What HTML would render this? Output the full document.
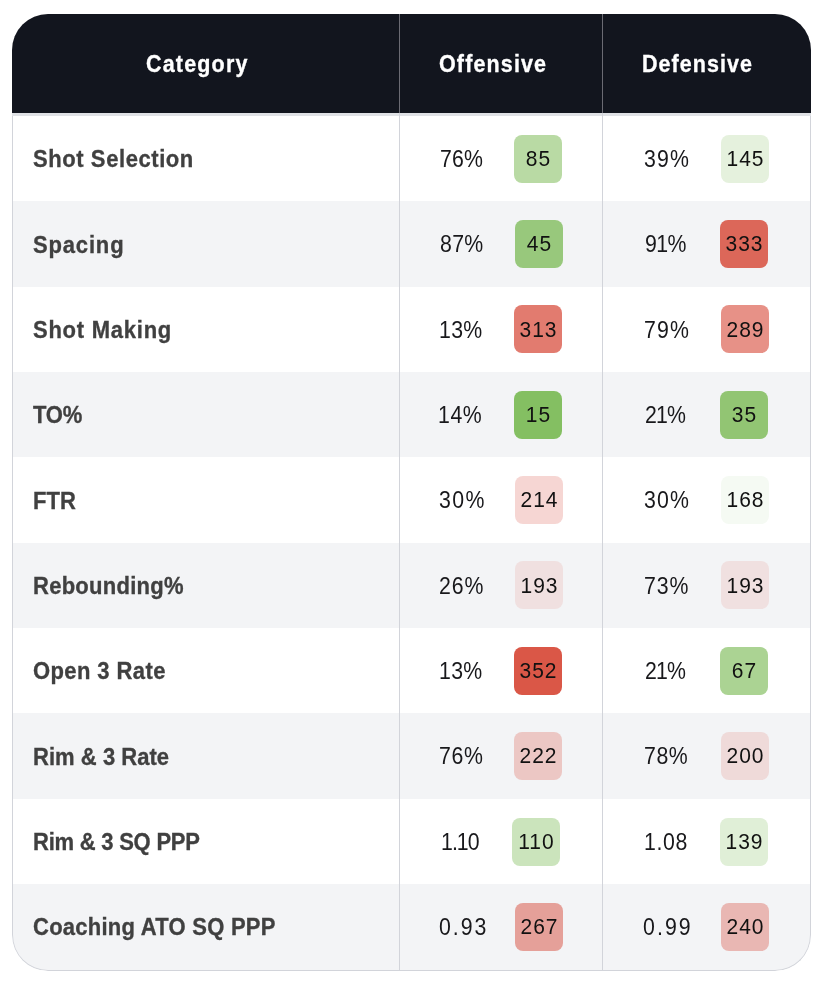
<!DOCTYPE html>
<html><head><meta charset="utf-8"><style>
*{box-sizing:border-box;margin:0;padding:0}
html,body{width:824px;height:984px;background:#fff;overflow:hidden}
body{font-family:"Liberation Sans",sans-serif;position:relative}
.t{position:absolute;left:12px;top:14px;width:799px;height:957px;border-radius:36px;overflow:hidden;background:#fff}
.hd{position:absolute;left:0;top:0;width:799px;height:99px;background:#12151e}
.hb{position:absolute;left:0;top:99px;width:799px;height:3px;background:#dfe1e5}
.hs{position:absolute;top:0;width:1px;height:99px;background:#6b6b73}
.bs{position:absolute;top:99px;width:1px;height:858px;background:#d2d4da}
.r{position:absolute;left:0;width:799px}
.g{background:#f3f4f6}
.ob{position:absolute;left:0;top:102px;width:799px;height:855px;border:1px solid #d2d4da;border-top:none;border-radius:0 0 36px 36px}
.x{position:absolute;white-space:nowrap;line-height:30px;height:30px;will-change:transform}
.th{color:#fff;font-weight:bold;font-size:21.5px;transform:scaleY(1.08);-webkit-text-stroke:0.3px #fff}
.c{font-weight:bold;font-size:22px;color:#404040;transform:scaleY(1.05);-webkit-text-stroke:0.3px #404040}
.v{font-size:21.3px;color:#18181b;transform:scaleY(1.12)}
.b{position:absolute;width:48px;height:48px;border-radius:8px}
.bt{font-size:21px;letter-spacing:1px;color:#111;width:60px;text-align:center;text-indent:1px;transform:scaleY(1.08)}
</style></head><body>
<div class="t">

<div class="r" style="top:102px;height:85px"></div>
<div class="r g" style="top:187px;height:86px"></div>
<div class="r" style="top:273px;height:85px"></div>
<div class="r g" style="top:358px;height:85px"></div>
<div class="r" style="top:443px;height:86px"></div>
<div class="r g" style="top:529px;height:85px"></div>
<div class="r" style="top:614px;height:85px"></div>
<div class="r g" style="top:699px;height:86px"></div>
<div class="r" style="top:785px;height:85px"></div>
<div class="r g" style="top:870px;height:86px"></div>
<div class="hd"></div><div class="hb"></div>
<div class="hs" style="left:387px"></div><div class="hs" style="left:590px"></div>
<div class="bs" style="left:387px"></div><div class="bs" style="left:590px"></div>
<div class="ob"></div>
<div class="b" style="left:502.1px;top:120.7px;background:#b9daa4"></div>
<div class="b" style="left:709.0px;top:120.7px;background:#e5f1dd"></div>
<div class="b" style="left:502.9px;top:206.0px;background:#98c87c"></div>
<div class="b" style="left:707.9px;top:206.0px;background:#dc6759"></div>
<div class="b" style="left:502.1px;top:291.4px;background:#e27b6f"></div>
<div class="b" style="left:708.6px;top:291.4px;background:#e79187"></div>
<div class="b" style="left:502.3px;top:376.7px;background:#84bf62"></div>
<div class="b" style="left:708.0px;top:376.7px;background:#92c573"></div>
<div class="b" style="left:502.5px;top:462.1px;background:#f6d6d3"></div>
<div class="b" style="left:708.8px;top:462.1px;background:#f5faf3"></div>
<div class="b" style="left:502.5px;top:547.4px;background:#f0e0e0"></div>
<div class="b" style="left:708.5px;top:547.4px;background:#f0e0e0"></div>
<div class="b" style="left:501.8px;top:632.8px;background:#da5747"></div>
<div class="b" style="left:708.0px;top:632.8px;background:#abd393"></div>
<div class="b" style="left:502.3px;top:718.1px;background:#ecc7c4"></div>
<div class="b" style="left:708.5px;top:718.1px;background:#efdad9"></div>
<div class="b" style="left:499.8px;top:803.5px;background:#cbe4bc"></div>
<div class="b" style="left:707.6px;top:803.5px;background:#e0efd7"></div>
<div class="b" style="left:503.1px;top:888.8px;background:#e5a099"></div>
<div class="b" style="left:709.0px;top:888.8px;background:#e9b7b3"></div>
</div>
<div class="x th" style="left:145.6px;top:49.3px;letter-spacing:1.171px">Category</div>
<div class="x th" style="left:438.8px;top:49.3px;letter-spacing:1.137px">Offensive</div>
<div class="x th" style="left:642.4px;top:49.3px;letter-spacing:1.062px">Defensive</div>
<div class="x c" style="left:32.5px;top:145.2px;letter-spacing:0.577px">Shot Selection</div>
<div class="x v" style="left:439.9px;top:143.9px;letter-spacing:0.15px">76%</div>
<div class="x v" style="left:643.9px;top:143.9px;letter-spacing:1.2px">39%</div>
<div class="x bt" style="left:508.1px;top:142.9px">85</div>
<div class="x bt" style="left:715.0px;top:142.9px">145</div>
<div class="x c" style="left:32.5px;top:230.5px;letter-spacing:0.833px">Spacing</div>
<div class="x v" style="left:440.1px;top:229.2px;letter-spacing:0.3px">87%</div>
<div class="x v" style="left:644.9px;top:229.2px;letter-spacing:-0.6px">91%</div>
<div class="x bt" style="left:508.9px;top:228.2px">45</div>
<div class="x bt" style="left:713.9px;top:228.2px">333</div>
<div class="x c" style="left:32.5px;top:315.9px;letter-spacing:0.75px">Shot Making</div>
<div class="x v" style="left:438.9px;top:314.6px;letter-spacing:0.3px">13%</div>
<div class="x v" style="left:643.6px;top:314.6px;letter-spacing:1.1px">79%</div>
<div class="x bt" style="left:508.1px;top:313.6px">313</div>
<div class="x bt" style="left:714.6px;top:313.6px">289</div>
<div class="x c" style="left:32.5px;top:401.2px;letter-spacing:-0.25px">TO%</div>
<div class="x v" style="left:438.4px;top:399.9px;letter-spacing:0.55px">14%</div>
<div class="x v" style="left:644.9px;top:399.9px;letter-spacing:-0.85px">21%</div>
<div class="x bt" style="left:508.3px;top:398.9px">15</div>
<div class="x bt" style="left:714.0px;top:398.9px">35</div>
<div class="x c" style="left:32.5px;top:486.6px;letter-spacing:0.0px">FTR</div>
<div class="x v" style="left:439.4px;top:485.3px;letter-spacing:1.35px">30%</div>
<div class="x v" style="left:643.9px;top:485.3px;letter-spacing:1.2px">30%</div>
<div class="x bt" style="left:508.5px;top:484.3px">214</div>
<div class="x bt" style="left:714.8px;top:484.3px">168</div>
<div class="x c" style="left:32.5px;top:571.9px;letter-spacing:0.26px">Rebounding%</div>
<div class="x v" style="left:439.4px;top:570.6px;letter-spacing:0.95px">26%</div>
<div class="x v" style="left:643.9px;top:570.6px;letter-spacing:0.95px">73%</div>
<div class="x bt" style="left:508.5px;top:569.6px">193</div>
<div class="x bt" style="left:714.5px;top:569.6px">193</div>
<div class="x c" style="left:32.5px;top:657.3px;letter-spacing:0.4px">Open 3 Rate</div>
<div class="x v" style="left:438.9px;top:656.0px;letter-spacing:0.3px">13%</div>
<div class="x v" style="left:644.9px;top:656.0px;letter-spacing:-0.85px">21%</div>
<div class="x bt" style="left:507.8px;top:655.0px">352</div>
<div class="x bt" style="left:714.0px;top:655.0px">67</div>
<div class="x c" style="left:32.5px;top:742.6px;letter-spacing:0.036px">Rim &amp; 3 Rate</div>
<div class="x v" style="left:439.4px;top:741.3px;letter-spacing:0.7px">76%</div>
<div class="x v" style="left:643.9px;top:741.3px;letter-spacing:0.55px">78%</div>
<div class="x bt" style="left:508.3px;top:740.3px">222</div>
<div class="x bt" style="left:714.5px;top:740.3px">200</div>
<div class="x c" style="left:32.5px;top:828.0px;letter-spacing:-0.231px">Rim &amp; 3 SQ PPP</div>
<div class="x v" style="left:440.7px;top:826.7px;letter-spacing:-0.967px">1.10</div>
<div class="x v" style="left:643.9px;top:826.7px;letter-spacing:0.6px">1.08</div>
<div class="x bt" style="left:505.8px;top:825.7px">110</div>
<div class="x bt" style="left:713.6px;top:825.7px">139</div>
<div class="x c" style="left:32.5px;top:913.3px;letter-spacing:0.25px">Coaching ATO SQ PPP</div>
<div class="x v" style="left:439.0px;top:912.0px;letter-spacing:2.0px">0.93</div>
<div class="x v" style="left:643.4px;top:912.0px;letter-spacing:2.067px">0.99</div>
<div class="x bt" style="left:509.1px;top:911.0px">267</div>
<div class="x bt" style="left:715.0px;top:911.0px">240</div>
</body></html>
